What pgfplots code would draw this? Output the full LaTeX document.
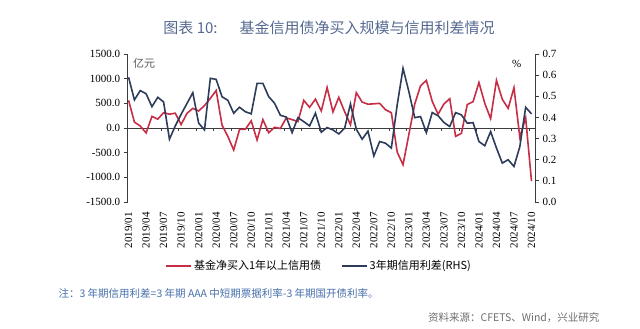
\documentclass[border=0pt]{standalone}
\usepackage{fontspec}
\setmainfont{Liberation Serif}
\newfontfamily\cjk{Noto Sans CJK SC}
\usepackage{pgfplots}
\usepackage{pgfplotstable}
\pgfplotsset{compat=1.18}
\definecolor{redc}{RGB}{200,45,70}
\definecolor{navyc}{RGB}{45,60,90}
\definecolor{titlec}{RGB}{85,105,145}
\definecolor{notec}{RGB}{70,110,170}
\definecolor{srcc}{RGB}{110,110,110}
\definecolor{axisc}{RGB}{60,60,60}
\newcommand{\ticks}{\fontsize{11bp}{13bp}\selectfont}
\pgfplotstableread{
i red blue
0 560 0.590
1 120 0.483
2 40 0.527
3 -100 0.512
4 235 0.451
5 180 0.495
6 310 0.473
7 280 0.297
8 300 0.360
9 70 0.415
10 297 0.466
11 398 0.517
12 345 0.373
13 455 0.341
14 600 0.585
15 760 0.580
16 60 0.498
17 -170 0.481
18 -446 0.420
19 -30 0.448
20 -25 0.427
21 145 0.417
22 -243 0.561
23 170 0.561
24 -95 0.498
25 14 0.467
26 -10 0.410
27 205 0.402
28 170 0.328
29 130 0.399
30 560 0.380
31 419 0.360
32 585 0.420
33 345 0.330
34 820 0.352
35 325 0.341
36 622 0.322
37 330 0.349
38 65 0.464
39 716 0.344
40 525 0.297
41 483 0.335
42 490 0.218
43 500 0.286
44 370 0.278
45 310 0.255
46 -490 0.459
47 -745 0.632
48 -130 0.522
49 483 0.399
50 855 0.404
51 965 0.328
52 540 0.423
53 280 0.408
54 486 0.376
55 595 0.357
56 -170 0.423
57 -108 0.412
58 476 0.373
59 534 0.375
60 922 0.286
61 500 0.266
62 190 0.333
63 966 0.255
64 581 0.184
65 398 0.200
66 817 0.168
67 -190 0.262
68 206 0.448
69 -1078 0.417
}\datatable
\begin{document}
\begin{tikzpicture}
\useasboundingbox (0,0) rectangle (640bp,329bp);
\node[font=\cjk\fontsize{15bp}{18bp}\selectfont, text=titlec] at (329bp,301bp) {图表 10:\hspace{22bp}基金信用债净买入规模与信用利差情况};
\begin{axis}[
  at={(127.7bp,127bp)}, anchor=south west, scale only axis,
  width=407.3bp, height=148bp,
  xmin=-0.15, xmax=69.6, ymin=-1500, ymax=1500,
  axis y line*=left, axis x line*=bottom,
  x axis line style={draw=none},
  y axis line style={draw=axisc, line width=0.8bp},
  xtick={0,3,...,69},
  xticklabels={2019/01,2019/04,2019/07,2019/10,2020/01,2020/04,2020/07,2020/10,2021/01,2021/04,2021/07,2021/10,2022/01,2022/04,2022/07,2022/10,2023/01,2023/04,2023/07,2023/10,2024/01,2024/04,2024/07,2024/10},
  xtick style={draw=none},
  xticklabel style={rotate=90, anchor=east, font=\ticks, inner sep=0pt, xshift=-6bp},
  ytick={-1500,-1000,-500,0,500,1000,1500},
  ytick style={draw=axisc, line width=0.8bp},
  yticklabel style={font=\ticks},
  /pgf/number format/fixed, /pgf/number format/fixed zerofill,
  /pgf/number format/precision=1, /pgf/number format/1000 sep={},
  /pgf/number format/assume math mode=true,
  tick align=outside, major tick length=4bp,
  clip=false,
]
\draw[axisc, line width=0.8bp] (axis cs:-0.15,0) -- (axis cs:69.6,0);
\pgfplotsinvokeforeach{2.6,5.6,8.6,11.6,14.6,17.6,20.6,23.6,26.6,29.6,32.6,35.6,38.6,41.6,44.6,47.6,50.6,53.6,56.6,59.6,62.6,65.6,68.6}{\draw[axisc, line width=0.8bp] (axis cs:#1,0) -- ([yshift=-3.5bp]axis cs:#1,0);}
\addplot[redc, line width=1.6bp] table[x=i,y=red]{\datatable};
\end{axis}
\begin{axis}[
  at={(127.7bp,127bp)}, anchor=south west, scale only axis,
  width=407.3bp, height=148bp,
  xmin=-0.15, xmax=69.6, ymin=0, ymax=0.7,
  axis y line*=right, axis x line=none,
  y axis line style={draw=axisc, line width=0.8bp},
  ytick={0,0.1,0.2,0.3,0.4,0.5,0.6,0.7},
  ytick style={draw=axisc, line width=0.8bp},
  yticklabel style={font=\ticks},
  /pgf/number format/fixed, /pgf/number format/fixed zerofill,
  /pgf/number format/precision=1,
  /pgf/number format/assume math mode=true,
  tick align=outside, major tick length=4bp,
  legend image code/.code={\draw[#1] (0bp,0bp) -- (25bp,0bp);},
  legend style={draw=none, fill=none, at={(0.47,-0.432)}, anchor=center,
    font=\cjk\fontsize{11bp}{13bp}\selectfont, inner sep=0pt,
    /tikz/every even column/.append style={column sep=18bp}},
  legend columns=2,
]
\addlegendimage{redc, line width=1.6bp}
\addlegendentry{基金净买入1年以上信用债}
\addplot[navyc, line width=1.6bp] table[x=i,y=blue]{\datatable};
\addlegendentry{3年期信用利差(RHS)}
\end{axis}
\node[font=\cjk\fontsize{11bp}{13bp}\selectfont, text=black!65] at (144bp,266bp) {亿元};
\node[font=\ticks] at (516.7bp,265bp) {\%};
\node[font=\cjk\fontsize{10.5bp}{12bp}\selectfont, text=notec, anchor=west] at (55bp,36bp) {注：3 年期信用利差=3 年期 AAA 中短期票据利率-3 年期国开债利率。};
\node[font=\cjk\fontsize{10.5bp}{12bp}\selectfont, text=srcc, anchor=east] at (603bp,11bp) {资料来源：CFETS、Wind，兴业研究};
\end{tikzpicture}
\end{document}
